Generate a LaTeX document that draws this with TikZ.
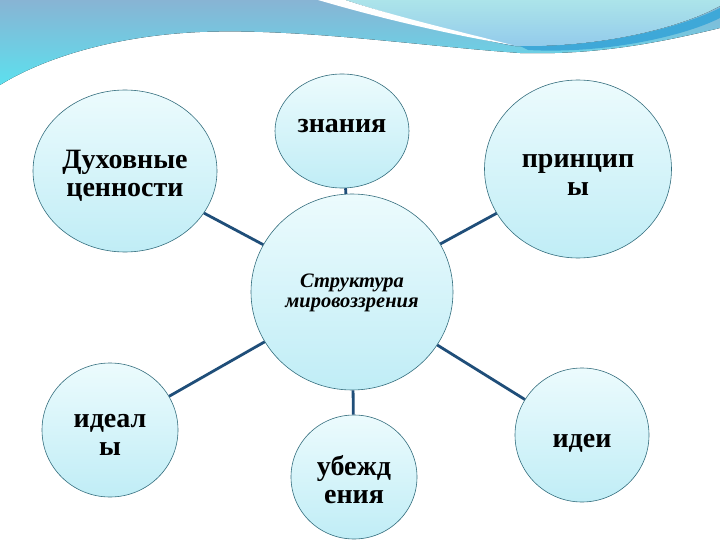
\documentclass[tikz,border=0pt]{standalone}
\usepackage{fontspec}
\setmainfont{Liberation Serif}
\usepackage{tikz}
\usetikzlibrary{positioning, shapes.geometric, calc}

\definecolor{linkcolor}{RGB}{31,78,121}
\definecolor{rimcolor}{RGB}{52,110,126}
\definecolor{bubbletop}{RGB}{236,251,253}
\definecolor{bubblebot}{RGB}{192,237,246}
\definecolor{bandtop}{RGB}{136,180,212}
\definecolor{bandbot}{RGB}{92,224,238}
\definecolor{blobtop}{RGB}{172,228,234}
\definecolor{blobbot}{RGB}{146,202,235}
\definecolor{streakcolor}{RGB}{62,168,216}

\begin{document}
\begin{tikzpicture}[x=1pt, y=-1pt,
        bubble/.style={ellipse, draw=rimcolor, line width=0.6pt,
            top color=bubbletop, bottom color=bubblebot, inner sep=0pt},
        tag/.style={inner sep=0pt, align=center,
            font=\fontsize{28}{28}\selectfont\bfseries},
        link/.style={draw=linkcolor, line width=2.8pt}]

    \useasboundingbox (0, 0) rectangle (720, 540);
    \fill[white] (0, 0) rectangle (720, 540);

    % --- top decoration ---
    % blue band
    \fill[top color=bandtop, bottom color=bandbot]
        (0, 0) -- (720, 0) -- (720, 28)
        .. controls (650, 45) and (590, 55) .. (520, 53)
        .. controls (420, 46) and (300, 28) .. (200, 32)
        .. controls (110, 36) and (40, 60) .. (0, 85) -- cycle;
    % light blob on the right
    \fill[top color=blobtop, bottom color=blobbot]
        (345, 0) .. controls (420, 24) and (480, 40) .. (515, 46)
        .. controls (600, 48) and (680, 28) .. (720, 6) -- (720, 0) -- cycle;
    % white streak
    \fill[white]
        (318, 0) .. controls (400, 24) and (470, 38) .. (512, 45)
        .. controls (470, 34) and (400, 18) .. (345, 0) -- cycle;
    % dark streak under the blob
    \fill[streakcolor]
        (520, 46) .. controls (600, 48) and (680, 28) .. (720, 8) -- (720, 18)
        .. controls (680, 38) and (600, 54) .. (528, 50) -- cycle;

    % --- bubbles ---
    \node[bubble, minimum width=202, minimum height=196] (struct) at (352, 292) {};
    \node[bubble, minimum width=184, minimum height=162] (dukh) at (125, 171) {};
    \node[bubble, minimum width=134, minimum height=114] (znan) at (342, 131) {};
    \node[bubble, minimum width=187, minimum height=178] (princ) at (578, 169) {};
    \node[bubble, minimum width=136, minimum height=134] (ideal) at (110, 430) {};
    \node[bubble, minimum width=126, minimum height=124] (ubezh) at (354, 477) {};
    \node[bubble, minimum width=134, minimum height=134] (idei) at (582, 435) {};

    % --- texts ---
    \node[tag, font=\fontsize{20.5}{20}\selectfont\bfseries\itshape]
        (struct-txt) at ([yshift=-1pt]struct.center) {Структура\\мировоззрения};
    \node[tag] (dukh-txt) at ([yshift=-5pt]dukh.center) {Духовные\\ценности};
    \node[tag] (znan-txt) at ([yshift=5pt]znan.center) {знания};
    \node[tag] (princ-txt) at ([yshift=-6pt]princ.center) {принцип\\ы};
    \node[tag] (ideal-txt) at ([yshift=-5pt]ideal.center) {идеал\\ы};
    \node[tag] (ubezh-txt) at ([yshift=-3pt]ubezh.center) {убежд\\ения};
    \node[tag] (idei-txt) at ([yshift=-8pt]idei.center) {идеи};

    % --- links ---
    \foreach \n in {dukh, znan, princ, ideal, ubezh, idei} {
        \draw[link] (struct) -- (\n);
    }
\end{tikzpicture}
\end{document}
